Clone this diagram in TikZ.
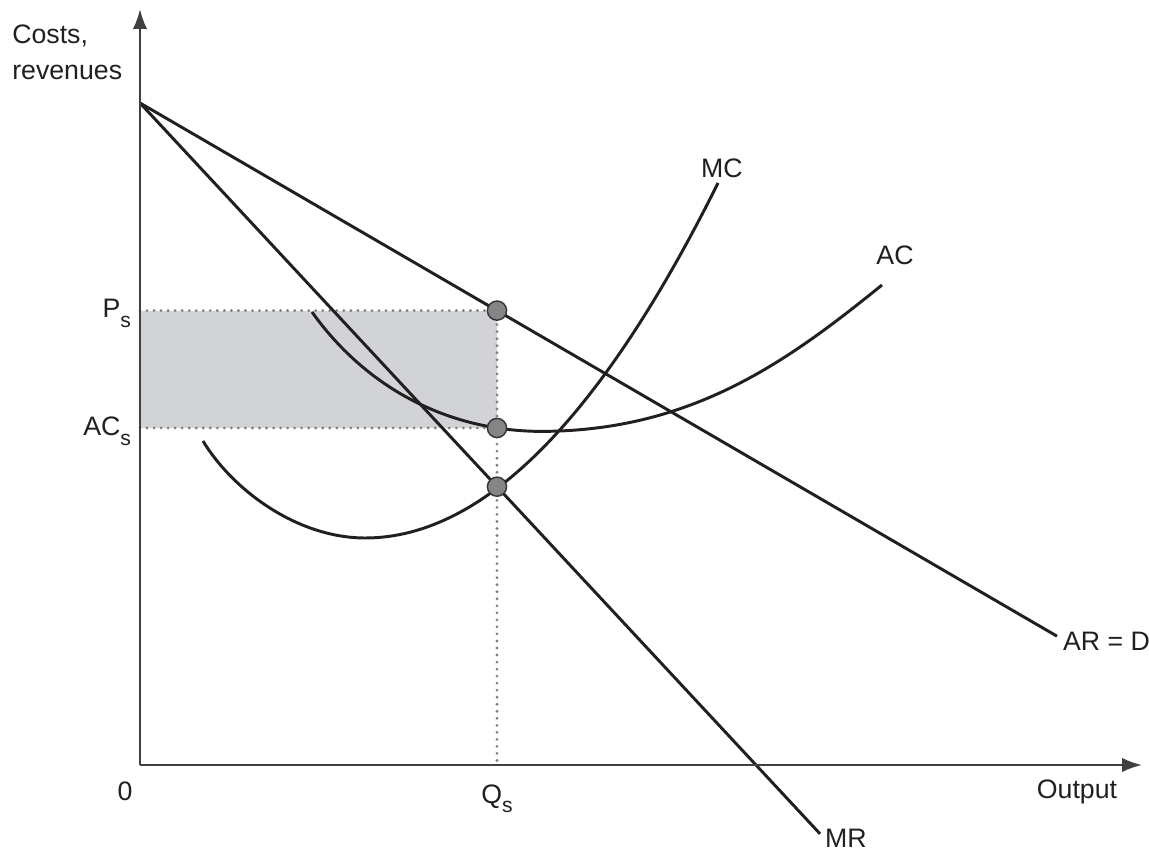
\documentclass[tikz,border=0pt]{standalone}
\usepackage{fontspec}
\setmainfont{Liberation Sans}
\usetikzlibrary{arrows.meta,backgrounds}

\definecolor{profit}{RGB}{210,211,214}
\definecolor{ink}{RGB}{35,31,32}
\newcommand{\lowsub}[1]{\raisebox{-0.35em}{\fontsize{15}{15}\selectfont #1}}

\begin{document}
\begin{tikzpicture}[
  font=\fontsize{19}{25.6}\selectfont,
  x=1cm, y=1cm,
  axis/.style={line width=1.6pt, draw=black!75, -{Latex[length=5mm, width=3.6mm]}},
  curve/.style={line width=2.1pt, draw=ink},
  guide/.style={line width=2.2pt, draw=black!50, dash pattern=on 0pt off 5pt, line cap=round},
  point/.style={circle, draw=black!80, fill=black!48, line width=1pt, minimum size=0.48cm, inner sep=0pt},
  lbl/.style={inner sep=2pt, text=ink}
]
\useasboundingbox (-3.5,-2.175) rectangle (25.225,19.125);

\coordinate (o) at (0,0);
\coordinate (ytop) at (0,18.9);
\coordinate (xend) at (25.05,0);
\coordinate (dtop) at (0,16.55);
\coordinate (arend) at (22.925,3.22);
\coordinate (mrend) at (17.0,-1.72);
\coordinate (qs) at (8.925,0);
\coordinate (psax) at (0,11.36);
\coordinate (acax) at (0,8.425);
\coordinate (pps) at (8.925,11.36);
\coordinate (pac) at (8.925,8.425);
\coordinate (pmc) at (8.925,6.958);
\coordinate (mcmin) at (5.625,5.675);
\coordinate (acmin) at (10.0,8.34);

\begin{scope}[on background layer]
  \fill[profit] (acax) rectangle (pps);
\end{scope}

\draw[guide] (psax) -- (pps);
\draw[guide] (acax) -- (pac);
\draw[guide] (pps) -- (qs);

\draw[curve] (dtop) -- (arend);
\draw[curve] (dtop) -- (mrend);
\draw[curve] (1.575,8.1) .. controls (2.3,6.9) and (3.9,5.68) .. (mcmin)
  .. controls (8.567,5.675) and (11.51,8.633) .. (14.45,14.55);
\draw[curve] (4.3,11.325) .. controls (5.6,9.5) and (7.6,8.36) .. (acmin)
  .. controls (13.8,8.34) and (16.2,10.1) .. (18.55,12.0);

\draw[axis] (o) -- (ytop);
\draw[axis] (o) -- (xend);

\node[point] (ps) at (pps) {};
\node[point] (acs) at (pac) {};
\node[point] (mcs) at (pmc) {};

\node[lbl, anchor=north west, align=left] (ytitle) at (-3.27,18.57) {Costs,\\revenues};
\node[lbl, anchor=north] (zero) at (-0.375,-0.35) {0};
\node[lbl, anchor=north] (xtitle) at (23.425,-0.3) {Output};
\node[lbl, anchor=base] (qlab) at (8.925,-0.95) {Q\lowsub{s}};
\node[lbl, anchor=base east] (plab) at (-0.15,11.175) {P\lowsub{s}};
\node[lbl, anchor=base east] (aclab) at (-0.15,8.225) {AC\lowsub{s}};
\node[lbl, anchor=base] (mclab) at (14.55,14.675) {MC};
\node[lbl, anchor=base] (aclabel) at (18.875,12.5) {AC};
\node[lbl, anchor=base] (mrlab) at (17.65,-2.05) {MR};
\node[lbl, anchor=base west] (arlab) at (23.0,2.875) {AR = D};
\end{tikzpicture}
\end{document}
